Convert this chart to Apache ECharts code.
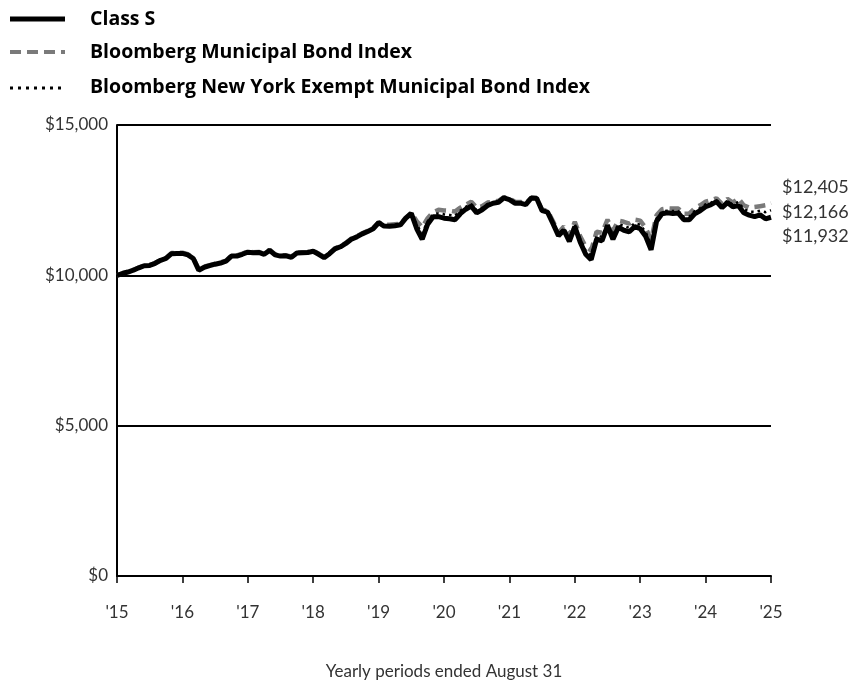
<!DOCTYPE html>
<html><head><meta charset="utf-8">
<script src="https://cdn.jsdelivr.net/npm/echarts@6/dist/echarts.min.js"></script>
<style>html,body{margin:0;padding:0;background:#fff}#c{width:855px;height:685px}</style>
</head><body><div id="c"></div>
<script>
const yearLabels = ["'15","'16","'17","'18","'19","'20","'21","'22","'23","'24","'25"];
const seriesNames = ["Class S","Bloomberg Municipal Bond Index","Bloomberg New York Exempt Municipal Bond Index"];
const classS = [10000,10060,10110,10170,10250,10320,10330,10400,10500,10560,10720,10730,
10730,10680,10560,10170,10270,10320,10370,10410,10470,10640,10640,10700,
10770,10750,10760,10700,10830,10680,10640,10650,10600,10740,10750,10760,
10800,10700,10590,10720,10880,10950,11060,11200,11280,11380,11460,11550,
11750,11640,11630,11650,11680,11900,12060,11550,11200,11700,11950,11950,
11900,11880,11850,12050,12200,12300,12080,12180,12320,12400,12430,12580,
12520,12400,12400,12350,12570,12560,12150,12100,11720,11320,11500,11130,
11620,11100,10700,10520,11200,11150,11650,11200,11600,11500,11450,11620,
11550,11300,10850,11800,12050,12080,12060,12070,11850,11850,12050,12150,
12280,12350,12450,12250,12420,12280,12320,12080,12000,11950,12010,11880,11932];
const muniIndex = [10000,10070,10120,10180,10260,10330,10340,10410,10510,10580,10740,10750,
10750,10700,10580,10200,10290,10340,10390,10430,10490,10660,10660,10720,
10790,10770,10780,10720,10850,10700,10660,10670,10620,10760,10770,10780,
10820,10720,10610,10740,10900,10970,11080,11220,11300,11400,11480,11570,
11760,11680,11680,11700,11720,11920,12080,11800,11600,11900,12100,12180,
12160,12150,12120,12250,12350,12450,12250,12300,12420,12450,12480,12600,
12560,12450,12440,12400,12580,12560,12180,12150,11800,11420,11620,11300,
11780,11300,10950,10830,11450,11420,11850,11480,11820,11780,11720,11850,
11820,11580,11180,12000,12200,12230,12220,12220,12050,12050,12230,12330,
12450,12500,12560,12380,12540,12420,12560,12330,12250,12270,12300,12330,12405];
const nyIndex = [10000,10065,10115,10175,10255,10325,10335,10405,10505,10570,10730,10740,
10740,10690,10570,10185,10280,10330,10380,10420,10480,10650,10650,10710,
10780,10760,10770,10710,10840,10690,10650,10660,10610,10750,10760,10770,
10810,10710,10600,10730,10890,10960,11070,11210,11290,11390,11470,11560,
11755,11660,11655,11675,11700,11910,12070,11680,11400,11800,12030,12060,
12030,12010,11980,12150,12280,12370,12160,12240,12370,12420,12450,12590,
12540,12420,12420,12370,12570,12560,12160,12120,11760,11370,11560,11210,
11700,11200,10820,10670,11320,11280,11750,11340,11710,11640,11580,11730,
11680,11440,11010,11900,12120,12150,12140,12140,11950,11950,12140,12240,
12360,12420,12500,12310,12480,12350,12440,12200,12120,12110,12150,12100,12166];

const toPts = a => a.map((v,i)=>[i,v]);
const fmt = v => '$' + Math.round(v).toLocaleString('en-US');
const FONT = 'Lato, "Open Sans", sans-serif';
const LFONT = '"Open Sans", Lato, sans-serif';
const chart = echarts.init(document.getElementById('c'), null, {renderer:'canvas'});

function endLbl(dy){
  return {show:true, formatter:p=>fmt(p.value[1]), color:'#333', fontFamily:FONT, fontSize:18, distance:11, offset:[0,dy]};
}

chart.setOption({
  animation:false,
  grid:{left:117, right:84, top:125, bottom:108, containLabel:false},
  xAxis:{type:'value', min:0, max:120, interval:12,
    axisLine:{show:true, onZero:false, lineStyle:{color:'#000', width:2}},
    axisTick:{show:true, length:7, lineStyle:{color:'#000', width:1.5}},
    axisLabel:{formatter:v=>yearLabels[Math.round(v/12)], color:'#333', fontFamily:FONT, fontSize:17, margin:28},
    splitLine:{show:false},
    name:'Yearly periods ended August 31', nameLocation:'middle', nameGap:87,
    nameTextStyle:{color:'#333', fontFamily:FONT, fontSize:17}
  },
  yAxis:{type:'value', min:0, max:15000, interval:5000,
    axisLine:{show:true, lineStyle:{color:'#000', width:2}},
    axisTick:{show:false},
    axisLabel:{formatter:v=>fmt(v), color:'#333', fontFamily:FONT, fontSize:17, margin:9},
    splitLine:{show:true, lineStyle:{color:'#000', width:2}}
  },
  series:[
    {name:seriesNames[1], type:'line', data:toPts(muniIndex), showSymbol:false, z:2,
      lineStyle:{color:'#7a7a7a', width:4.5, type:[11,6]}, endLabel:endLbl(-16)},
    {name:seriesNames[0], type:'line', data:toPts(classS), showSymbol:false, z:3,
      lineStyle:{color:'#000', width:5}, endLabel:endLbl(19)},
    {name:seriesNames[2], type:'line', data:toPts(nyIndex), showSymbol:false, z:4,
      lineStyle:{color:'#000', width:2.5, type:[2.5,4]}, endLabel:endLbl(2)}
  ],
  graphic:[
    {type:'line', shape:{x1:10,y1:19,x2:65,y2:19}, style:{stroke:'#000', lineWidth:5}},
    {type:'text', x:90, y:19, style:{text:seriesNames[0], fill:'#000', font:'bold 19.5px '+LFONT, verticalAlign:'middle'}},
    {type:'line', shape:{x1:10,y1:52,x2:65,y2:52}, style:{stroke:'#7a7a7a', lineWidth:4, lineDash:[11,6]}},
    {type:'text', x:90, y:52, style:{text:seriesNames[1], fill:'#000', font:'bold 19.5px '+LFONT, verticalAlign:'middle'}},
    {type:'line', shape:{x1:10,y1:88,x2:65,y2:88}, style:{stroke:'#000', lineWidth:3, lineDash:[3,5]}},
    {type:'text', x:90, y:87, style:{text:seriesNames[2], fill:'#000', font:'bold 19.5px '+LFONT, verticalAlign:'middle'}}
  ]
});
</script></body></html>
